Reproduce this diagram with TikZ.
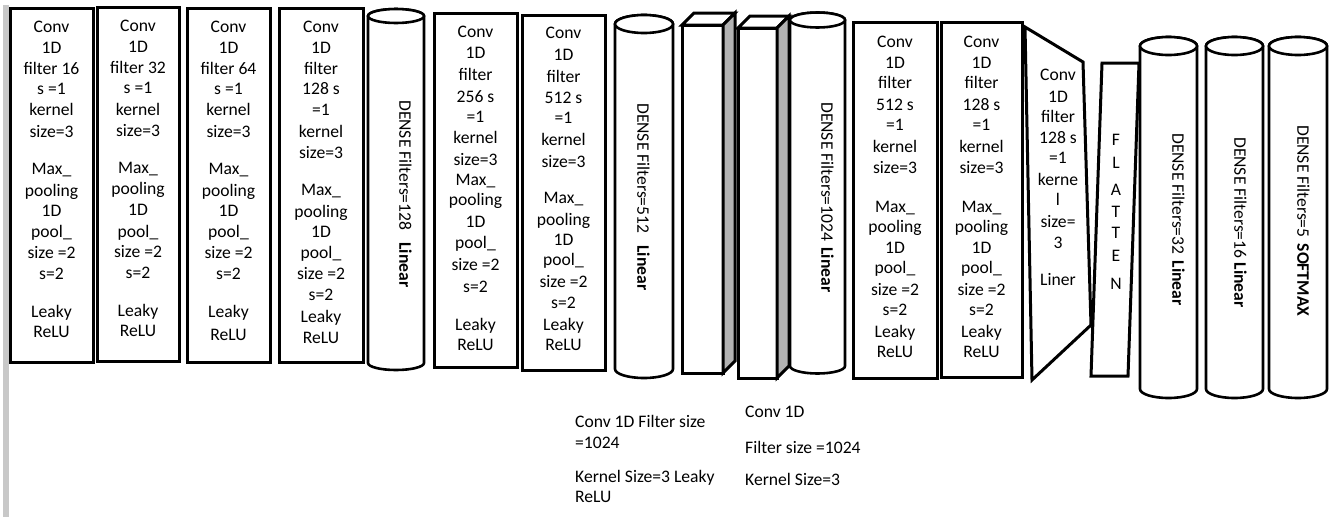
\documentclass[tikz,border=0pt]{standalone}
\usepackage{fontspec}
\setmainfont{Carlito}
\definecolor{sidegray}{RGB}{178,178,178}
\definecolor{bargray}{RGB}{200,200,200}
\tikzset{
  lbl/.style={inner sep=0pt, text height=11.3pt, text depth=0pt, font=\fontsize{17.6}{21}\selectfont},
  layer/.style={draw=black, line width=3pt, fill=white, line join=miter},
  cyl/.style={draw=black, line width=2.6pt, fill=white},
  sideface/.style={draw=black, line width=3pt, fill=sidegray, line join=miter},
  vtext/.style={lbl, rotate=-90, anchor=west},
}
\newcommand\mycyl[5]{%
  \pgfmathsetmacro\cylrx{(#2-#1)/2}%
  \pgfmathsetmacro\cylcx{(#1+#2)/2}%
  \filldraw[cyl] (#1,#3) -- (#1,#4) arc[start angle=180,end angle=360,x radius=\cylrx pt,y radius=#5pt] -- (#2,#3) arc[start angle=0,end angle=180,x radius=\cylrx pt,y radius=#5pt] -- cycle;
  \draw[cyl] (\cylcx,#3) ellipse[x radius=\cylrx pt,y radius=#5pt];
}
\newcommand\mycube[4]{%
  \filldraw[layer] (#1,#2) rectangle (#3,#4);
  \filldraw[layer] (#1,#2) -- ($(#1,#2)+(12,-12)$) -- ($(#3,#2)+(12,-12)$) -- (#3,#2) -- cycle;
  \filldraw[sideface] (#3,#2) -- ($(#3,#2)+(12,-12)$) -- ($(#3,#4)+(12,-12)$) -- (#3,#4) -- cycle;
}
\usetikzlibrary{calc}
\begin{document}
\begin{tikzpicture}[x=1pt,y=-1pt]
\useasboundingbox (0,0) rectangle (1330,517);
\fill[bargray] (3,5) rectangle (9,517);

% boxes
\filldraw[layer] (10,8) rectangle (93,362);
\filldraw[layer] (97,7) rectangle (179,361);
\filldraw[layer] (187,8) rectangle (270,362);
\filldraw[layer] (279,8) rectangle (363,362);
\mycyl{368}{424}{16}{363}{7}
\filldraw[layer] (434,13) rectangle (517,367);
\filldraw[layer] (522,15) rectangle (605,370);
\mycyl{615}{673}{24}{369}{9}
\mycube{682}{25}{723}{373}
\mycube{738}{28}{777}{378}
\mycyl{790}{845}{20}{366}{7.5}
\filldraw[layer] (853,22) rectangle (937,378);
\filldraw[layer] (941,22) rectangle (1022,377);
\filldraw[layer] (1025,27) -- (1083,62) -- (1091,325) -- (1032,380) -- cycle;
\filldraw[layer] (1102,63) -- (1139,63) -- (1128,376) -- (1091,376) -- cycle;
\mycyl{1140}{1197}{46}{389}{9}
\mycyl{1206}{1263}{46}{389}{9}
\mycyl{1269}{1327}{46}{389}{9}

% texts
\foreach \t/\y [count=\i] in {Conv/27,1D/48,filter 16/69,s =1/89,kernel/110,size=3/132,Max\_/169,pooling/191,1D/211,pool\_/232,size =2/253,s=2/274,Leaky/312,ReLU/332}
  \node[lbl] (ba\i) at (51.5,\y) {\t};
\foreach \t/\y [count=\i] in {Conv/26,1D/47,filter 32/68,s =1/88,kernel/110,size=3/131,Max\_/168,pooling/189,1D/210,pool\_/232,size =2/252,s=2/273,Leaky/311,ReLU/331}
  \node[lbl] (bb\i) at (138,\y) {\t};
\foreach \t/\y [count=\i] in {Conv/27,1D/48,filter 64/69,s =1/89,kernel/110,size=3/132,Max\_/169,pooling/191,1D/211,pool\_/232,size =2/253,s=2/274,Leaky/312,ReLU/335}
  \node[lbl] (bc\i) at (228.5,\y) {\t};
\foreach \t/\y [count=\i] in {Conv/27,1D/48,filter/69,128 s/89,=1/110,kernel/132,size=3/153,Max\_/190,pooling/212,1D/232,pool\_/253,size =2/274,s=2/295,Leaky/317,ReLU/338}
  \node[lbl] (bd\i) at (321,\y) {\t};
\foreach \t/\y [count=\i] in {Conv/32,1D/53,filter/75,256 s/97,=1/117,kernel/138,size=3/160,Max\_/180,pooling/200,1D/222,pool\_/243,size =2/265,s=2/287,Leaky/325,ReLU/345}
  \node[lbl] (be\i) at (475.5,\y) {\t};
\foreach \t/\y [count=\i] in {Conv/33,1D/55,filter/77,512 s/98,=1/118,kernel/140,size=3/162,Max\_/198,pooling/220,1D/240,pool\_/260,size =2/282,s=2/303,Leaky/325,ReLU/345}
  \node[lbl] (bf\i) at (563.5,\y) {\t};
\foreach \t/\y [count=\i] in {Conv/42,1D/63,filter/83,512 s/105,=1/125,kernel/147,size=3/168,Max\_/207,pooling/227,1D/248,pool\_/268,size =2/290,s=2/310,Leaky/332,ReLU/352}
  \node[lbl] (bg\i) at (895,\y) {\t};
\foreach \t/\y [count=\i] in {Conv/42,1D/63,filter/83,128 s/105,=1/125,kernel/147,size=3/168,Max\_/207,pooling/227,1D/248,pool\_/268,size =2/290,s=2/310,Leaky/332,ReLU/352}
  \node[lbl] (bh\i) at (981.5,\y) {\t};
\foreach \t/\y [count=\i] in {Conv/75,1D/97,filter/117,128 s/138,=1/158,kerne/180,l/200,size=/222,3/243,Liner/280}
  \node[lbl] (tr\i) at (1058,\y) {\t};
\foreach \t/\y [count=\i] in {F/140,L/163,A/190,T/212,T/233,E/256,N/284}
  \node[lbl] (fl\i) at (1116,\y) {\t};

% rotated dense texts
\node[vtext] (d1) at (405,100) {DENSE Filters=128\hspace{12pt}\textbf{Linear}};
\node[vtext] (d2) at (643,103) {DENSE Filters=512\hspace{12pt}\textbf{Linear}};
\node[vtext] (d3) at (827,102) {DENSE Filters=1024\hspace{6pt}\textbf{Linear}};
\node[vtext] (d4) at (1178,133) {DENSE Filters=32\hspace{6pt}\textbf{Linear}};
\node[vtext] (d5) at (1240,137) {DENSE Filters=16 \textbf{Linear}};
\node[vtext] (d6) at (1303,125) {DENSE Filters=5\hspace{6pt}\textbf{SOFTMAX}};

% bottom texts
\node[lbl, anchor=west] (c1) at (575,422) {Conv 1D Filter size};
\node[lbl, anchor=west] (c2) at (575,443) {=1024};
\node[lbl, anchor=west] (c3) at (575,477) {Kernel Size=3 Leaky};
\node[lbl, anchor=west] (c4) at (575,497) {ReLU};
\node[lbl, anchor=west] (e1) at (745,412) {Conv 1D};
\node[lbl, anchor=west] (e2) at (745,448) {Filter size =1024};
\node[lbl, anchor=west] (e3) at (745,480) {Kernel Size=3};
\end{tikzpicture}
\end{document}
